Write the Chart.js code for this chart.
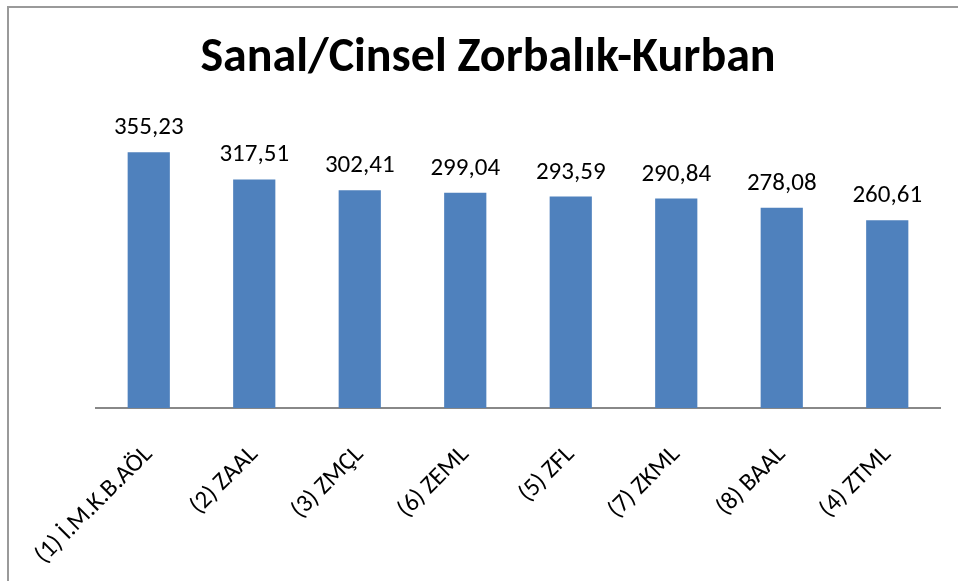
<!DOCTYPE html>
<html>
<head>
<meta charset="utf-8">
<script src="https://cdn.jsdelivr.net/npm/chart.js@4.4.1/dist/chart.umd.min.js"></script>
<style>
  html, body { margin: 0; padding: 0; background: #fff; }
  #wrap { width: 958px; height: 581px; position: relative; }
</style>
</head>
<body>
<div id="wrap"><canvas id="c" width="958" height="581"></canvas></div>
<script>
const categories = ["(1) İ.M.K.B.AÖL", "(2) ZAAL", "(3) ZMÇL", "(6) ZEML", "(5) ZFL", "(7) ZKML", "(8) BAAL", "(4) ZTML"];
const values = [355.23, 317.51, 302.41, 299.04, 293.59, 290.84, 278.08, 260.61];
const chartTitle = "Sanal/Cinsel Zorbalık-Kurban";
const yMin = 0;
const yMax = 400;

const FONT = "'Carlito', 'Open Sans', 'Liberation Sans', sans-serif";

const framePlugin = {
  id: 'frame',
  beforeDraw(chart) {
    const ctx = chart.ctx;
    ctx.save();
    ctx.fillStyle = '#ffffff';
    ctx.fillRect(0, 0, chart.width, chart.height);
    ctx.strokeStyle = '#9a9a9a';
    ctx.lineWidth = 2;
    ctx.beginPath();
    ctx.moveTo(8, chart.height + 2);
    ctx.lineTo(8, 7);
    ctx.lineTo(chart.width + 2, 7);
    ctx.stroke();
    ctx.restore();
  }
};

const labelPlugin = {
  id: 'barLabels',
  afterDatasetsDraw(chart) {
    const ctx = chart.ctx;
    const meta = chart.getDatasetMeta(0);
    ctx.save();
    ctx.font = "25px " + FONT;
    ctx.fillStyle = '#000';
    ctx.textAlign = 'center';
    ctx.textBaseline = 'alphabetic';
    meta.data.forEach((bar, i) => {
      const txt = values[i].toFixed(2).replace('.', ',');
      ctx.fillText(txt, bar.x, bar.y - 18);
    });
    ctx.restore();
  }
};

new Chart(document.getElementById('c'), {
  type: 'bar',
  data: {
    labels: categories,
    datasets: [{
      data: values,
      backgroundColor: '#4F81BD',
      borderWidth: 0,
      barPercentage: 0.4,
      categoryPercentage: 1.0
    }]
  },
  options: {
    responsive: false,
    animation: false,
    devicePixelRatio: 1,
    layout: { padding: { left: 36, right: 18, top: 0, bottom: 0 } },
    plugins: {
      legend: { display: false },
      tooltip: { enabled: false },
      title: {
        display: true,
        text: chartTitle,
        color: '#000',
        font: { family: FONT, size: 48, weight: 'bold' },
        padding: { top: 30, bottom: 32.4 }
      }
    },
    scales: {
      x: {
        grid: { display: false, drawTicks: false },
        border: { display: true, color: '#888888', width: 2 },
        ticks: {
          color: '#000',
          font: { family: FONT, size: 25 },
          minRotation: 45,
          maxRotation: 45,
          padding: 32,
          autoSkip: false
        },
        afterFit(scale) { scale.height = 173; }
      },
      y: {
        display: true,
        min: yMin,
        max: yMax,
        grid: { display: false, drawTicks: false },
        border: { display: false },
        ticks: { display: false },
        afterFit(scale) { scale.width = 60; }
      }
    }
  },
  plugins: [framePlugin, labelPlugin]
});
</script>
</body>
</html>
